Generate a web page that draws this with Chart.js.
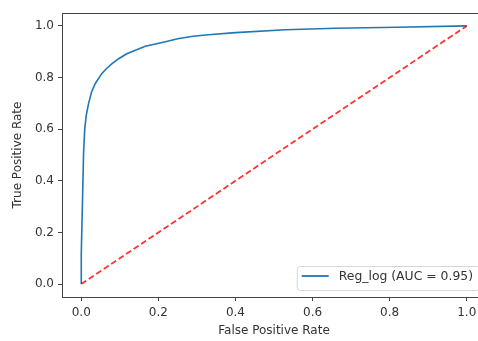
<!DOCTYPE html>
<html>
<head>
<meta charset="utf-8">
<script src="https://cdn.jsdelivr.net/npm/chart.js@4.4.0/dist/chart.umd.min.js"></script>
<style>
  html, body { margin: 0; padding: 0; overflow: hidden; background: #fff; }
  #wrap { width: 500px; height: 341px; }
</style>
</head>
<body>
<div id="wrap"><canvas id="roc"></canvas></div>
<script>
// ROC curve
const fpr = [0, 0, 0.003, 0.006, 0.009, 0.013, 0.019, 0.027, 0.036, 0.053, 0.065, 0.079, 0.097, 0.118, 0.166, 0.213, 0.25, 0.29, 0.33, 0.40, 0.53, 0.66, 0.82, 1.0];
const tpr = [0, 0.12, 0.31, 0.51, 0.60, 0.655, 0.70, 0.745, 0.776, 0.815, 0.834, 0.853, 0.873, 0.892, 0.921, 0.937, 0.950, 0.960, 0.966, 0.974, 0.985, 0.991, 0.995, 1.0];
const chanceX = [0, 1];
const chanceY = [0, 1];
const xTicks = [0, 0.2, 0.4, 0.6, 0.8, 1.0];
const yTicks = [0, 0.2, 0.4, 0.6, 0.8, 1.0];
const seriesLabel = 'Reg_log (AUC = 0.95)';

const FONT = { family: 'DejaVu Sans', size: 12 };
const AXIS = '#444';
const TEXT = '#333';

const legendBox = {
  id: 'legendBox',
  afterDraw(chart) {
    const { ctx, chartArea } = chart;
    const ds = chart.data.datasets[1];
    ctx.save();
    ctx.font = '12.4px "DejaVu Sans"';
    const tw = ctx.measureText(ds.label).width;
    const h = 24;
    const w = 5 + 27 + 10 + tw + 6;
    const x = chartArea.right - 7 - w;
    const y = chartArea.bottom - 7 - h;
    ctx.beginPath();
    ctx.roundRect(x + 0.5, y + 0.5, w, h, 3);
    ctx.fillStyle = 'rgba(255,255,255,0.8)';
    ctx.fill();
    ctx.strokeStyle = '#d6d6d6';
    ctx.lineWidth = 1;
    ctx.stroke();
    ctx.beginPath();
    ctx.moveTo(x + 5, y + 10);
    ctx.lineTo(x + 32, y + 10);
    ctx.strokeStyle = ds.borderColor;
    ctx.lineWidth = 1.8;
    ctx.stroke();
    ctx.fillStyle = TEXT;
    ctx.textBaseline = 'middle';
    ctx.fillText(ds.label, x + 42, y + 11);
    ctx.restore();
  }
};

new Chart(document.getElementById('roc'), {
  type: 'scatter',
  data: {
    datasets: [{
      label: 'chance',
      data: chanceX.map((v, i) => ({ x: v, y: chanceY[i] })),
      showLine: true,
      borderColor: 'rgba(255,0,0,0.8)',
      borderWidth: 1.8,
      borderDash: [6, 3],
      pointRadius: 0,
      order: 0
    }, {
      label: seriesLabel,
      data: fpr.map((v, i) => ({ x: v, y: tpr[i] })),
      showLine: true,
      borderColor: '#1f77b4',
      borderWidth: 1.6,
      pointRadius: 0,
      order: 1
    }]
  },
  options: {
    responsive: true,
    maintainAspectRatio: false,
    animation: false,
    layout: { padding: { left: 0, right: 14, top: 0, bottom: 0 } },
    plugins: {
      legend: { display: false },
      tooltip: { enabled: false }
    },
    scales: {
      x: {
        type: 'linear',
        min: -0.05,
        max: 1.05,
        afterBuildTicks: s => { s.ticks = xTicks.map(v => ({ value: v })); },
        afterFit: s => { s.height = 44; },
        ticks: { font: FONT, color: TEXT, padding: 5, maxRotation: 0, callback: v => v.toFixed(1) },
        grid: { drawOnChartArea: false, drawTicks: true, tickLength: 4, color: AXIS },
        border: { color: AXIS, width: 1 },
        title: { display: true, text: 'False Positive Rate', font: FONT, color: TEXT, padding: { top: 0, bottom: 3 } }
      },
      x2: {
        type: 'linear',
        position: 'top',
        min: -0.05,
        max: 1.05,
        afterFit: s => { s.height = 13; },
        ticks: { display: false },
        grid: { display: false },
        border: { color: AXIS, width: 1 }
      },
      y: {
        type: 'linear',
        min: -0.05,
        max: 1.05,
        afterBuildTicks: s => { s.ticks = yTicks.map(v => ({ value: v })); },
        afterFit: s => { s.width = 62; },
        ticks: { font: FONT, color: TEXT, padding: 4, callback: v => v.toFixed(1) },
        grid: { drawOnChartArea: false, drawTicks: true, tickLength: 4, color: AXIS },
        border: { color: AXIS, width: 1 },
        title: { display: true, text: 'True Positive Rate', font: FONT, color: TEXT, padding: { top: 11, bottom: 0 } }
      }
    }
  },
  plugins: [legendBox]
});
</script>
</body>
</html>
